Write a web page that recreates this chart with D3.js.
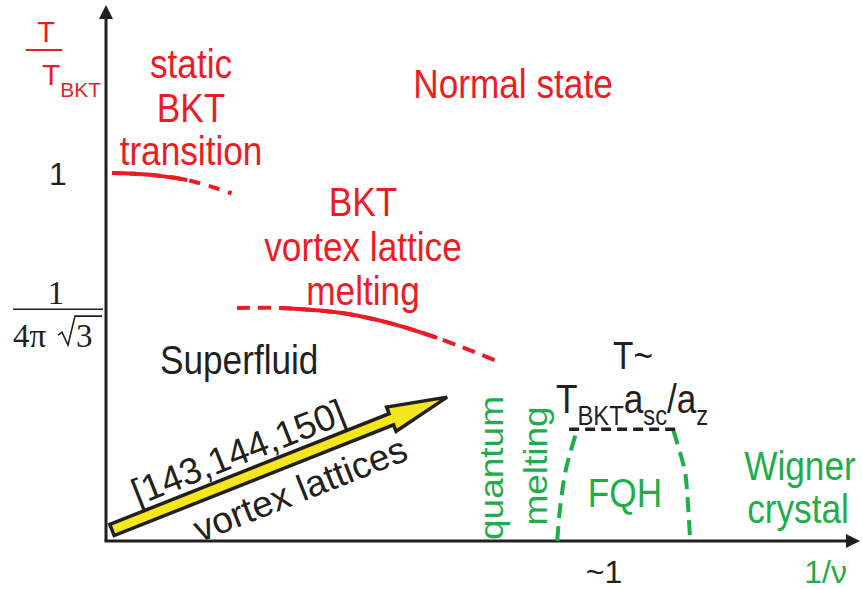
<!DOCTYPE html>
<html>
<head>
<meta charset="utf-8">
<script src="https://cdn.jsdelivr.net/npm/d3@7"></script>
<style>
  body { margin: 0; background: #fff; }
  text { font-family: "Liberation Sans", Arial, sans-serif; }
</style>
</head>
<body>
<div id="chart"></div>
<script>
const width = 862;
const height = 589;
const red = "#ed1c24", green = "#1fad4b", black = "#231f20", yellow = "#f6e61e";

// schematic phase diagram, x = 1/nu, y = T/T_BKT
const staticBKT = [[0.012, 1.0], [0.088, 0.995], [0.163, 0.981], [0.252, 0.945]];
const meltingBKT = [[0.263, 0.633], [0.349, 0.633], [0.470, 0.620], [0.570, 0.592], [0.665, 0.552], [0.785, 0.489]];
const fqhLeft = [[0.906, 0], [0.912, 0.092], [0.922, 0.185], [0.932, 0.239], [0.946, 0.302]];
const fqhRight = [[1.139, 0.302], [1.153, 0.239], [1.163, 0.185], [1.169, 0.092], [1.173, 0]];
const fqhTop = [[0.930, 0.304], [1.153, 0.304]];
const vortexArrow = [[0.012, 0.030], [0.685, 0.391]];

const yTicks = [1, 0.63];
const xTicks = [1];
const xTickLabels = ["~1"];

const svg = d3.select("#chart")
  .append("svg")
  .attr("width", width)
  .attr("height", height);

const x = d3.scaleLinear().domain([0, 1]).range([106, 604]);
const y = d3.scaleLinear().domain([0, 1]).range([541, 173]);

const line = d3.line()
  .x(d => x(d[0]))
  .y(d => y(d[1]))
  .curve(d3.curveCatmullRom);

function curve(data, color, w, dash, offset = 0) {
  svg.append("path")
    .datum(data)
    .attr("fill", "none")
    .attr("stroke", color)
    .attr("stroke-width", w)
    .attr("stroke-dasharray", dash)
    .attr("stroke-dashoffset", offset)
    .attr("d", line);
}

function txt(px, py, s, size, color, anchor = "middle", sx = 0.88, rot = 0) {
  return svg.append("text")
    .attr("transform", `translate(${px},${py}) scale(${sx},1)` + (rot ? ` rotate(${rot})` : ""))
    .attr("text-anchor", anchor)
    .attr("font-size", size)
    .attr("fill", color)
    .text(s);
}

// axes
const x0 = x(0), y0 = y(0);
svg.append("line").attr("x1", x0).attr("y1", y0).attr("x2", x0).attr("y2", 16)
  .attr("stroke", black).attr("stroke-width", 3);
svg.append("path").attr("d", `M${x0},5 L${x0 - 7},19 L${x0 + 7},19 Z`).attr("fill", black);
svg.append("line").attr("x1", x0 - 1.5).attr("y1", y0).attr("x2", 849).attr("y2", y0)
  .attr("stroke", black).attr("stroke-width", 3);
svg.append("path").attr("d", `M860,${y0} L846,${y0 - 7} L846,${y0 + 7} Z`).attr("fill", black);

// phase boundaries
curve(staticBKT, red, 4, "11 9", 2);
curve(staticBKT.slice(0, 3), red, 4, null);
curve(meltingBKT, red, 4, "13 8");
curve(meltingBKT.slice(1, 5), red, 4, null);
curve(fqhLeft, green, 4, "15 8");
curve(fqhRight, green, 4, "15 8");
curve(fqhTop, black, 3.5, "10 6");

// vortex lattice arrow
const [a0, a1] = vortexArrow.map(d => [x(d[0]), y(d[1])]);
const L = Math.hypot(a1[0] - a0[0], a1[1] - a0[1]);
const ang = Math.atan2(a1[1] - a0[1], a1[0] - a0[0]) * 180 / Math.PI;
const ag = svg.append("g").attr("transform", `translate(${a0[0]},${a0[1]}) rotate(${ang})`);
const h = 6, hl = 60, hw = 13;
ag.append("path")
  .attr("d", `M0,${-h} L${L - hl},${-h} L${L - hl},${-hw} L${L},0 L${L - hl},${hw} L${L - hl},${h} L0,${h} Z`)
  .attr("fill", yellow)
  .attr("stroke", black)
  .attr("stroke-width", 3.5)
  .attr("stroke-linejoin", "miter");
ag.append("text").attr("x", 146).attr("y", -13).attr("text-anchor", "middle")
  .attr("font-size", 37).attr("fill", black).text("[143,144,150]");
ag.append("text").attr("x", 190).attr("y", 44).attr("text-anchor", "middle")
  .attr("font-size", 37).attr("fill", black).text("vortex lattices");

// y axis label T / T_BKT
svg.append("text").attr("x", 46).attr("y", 42).attr("text-anchor", "middle")
  .attr("font-size", 29).attr("fill", red).text("T");
svg.append("line").attr("x1", 26).attr("x2", 62).attr("y1", 50).attr("y2", 50)
  .attr("stroke", red).attr("stroke-width", 2);
const tb = svg.append("text").attr("x", 42).attr("y", 85).attr("font-size", 30).attr("fill", red);
tb.append("tspan").text("T");
tb.append("tspan").attr("font-size", 21).attr("dy", 12).text("BKT");

// y tick labels
svg.append("text").attr("x", 58).attr("y", y(yTicks[0]) + 12).attr("text-anchor", "middle")
  .attr("font-size", 32).attr("fill", black).text("1");
const yf = y(yTicks[1]);
const serif = "'Liberation Serif', 'Times New Roman', serif";
svg.append("text").attr("x", 56).attr("y", yf - 5).attr("text-anchor", "middle")
  .style("font-family", serif).attr("font-size", 33).attr("fill", black).text("1");
svg.append("line").attr("x1", 13).attr("x2", 103).attr("y1", yf).attr("y2", yf)
  .attr("stroke", black).attr("stroke-width", 1.5);
svg.append("text").attr("x", 13).attr("y", yf + 38)
  .style("font-family", serif).attr("font-size", 33).attr("fill", black).text("4π");
const rx = 58, rb = yf + 38;
// radical sign drawn as a stroke, with the radicand as text
svg.append("path")
  .attr("d", `M${rx},${rb - 12} L${rx + 4},${rb - 15} L${rx + 10},${rb - 2} L${rx + 17},${rb - 31} L${rx + 44},${rb - 31}`)
  .attr("fill", "none").attr("stroke", black).attr("stroke-width", 1.6);
svg.append("text").attr("x", rx + 18).attr("y", rb)
  .style("font-family", serif).attr("font-size", 33).attr("fill", black).text("3");

// x tick labels
xTicks.forEach((t, i) => {
  svg.append("text").attr("x", x(t)).attr("y", 583).attr("text-anchor", "middle")
    .attr("font-size", 32).attr("fill", black).text(xTickLabels[i]);
});
svg.append("text").attr("x", 847).attr("y", 583).attr("text-anchor", "end")
  .attr("font-size", 32).attr("fill", green).text("1/ν");

// region labels
txt(191, 78, "static", 40, red);
txt(191, 122, "BKT", 40, red);
txt(191, 165, "transition", 40, red);
txt(513, 98, "Normal state", 40, red);
txt(363, 216, "BKT", 40, red);
txt(363, 261, "vortex lattice", 40, red);
txt(363, 305, "melting", 40, red);
txt(160, 374, "Superfluid", 40, black, "start");
txt(613, 369, "T~", 38, black, "start");
const tt = txt(556, 413, "", 40, black, "start");
tt.append("tspan").text("T");
tt.append("tspan").attr("font-size", 27).attr("dy", 12).text("BKT");
tt.append("tspan").attr("dy", -12).text("a");
tt.append("tspan").attr("font-size", 27).attr("dy", 12).text("sc");
tt.append("tspan").attr("dy", -12).text("/a");
tt.append("tspan").attr("font-size", 27).attr("dy", 12).text("z");
txt(625, 507, "FQH", 40, green);
txt(800, 480, "Wigner", 40, green);
txt(798, 523, "crystal", 40, green);
txt(503, 468, "quantum", 37, green, "middle", 0.88, -90);
txt(547, 466, "melting", 37, green, "middle", 0.88, -90);
</script>
</body>
</html>
